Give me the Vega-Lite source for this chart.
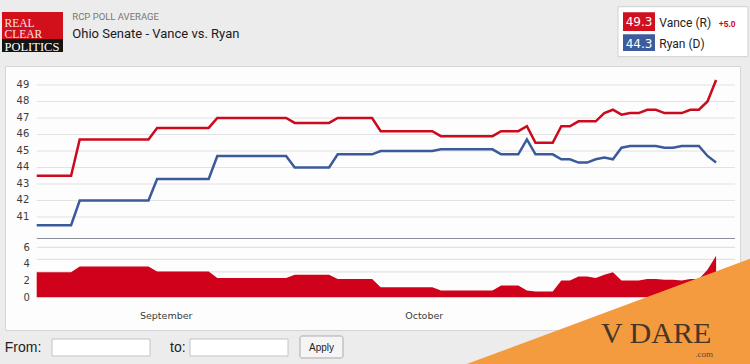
{
  "$schema": "https://vega.github.io/schema/vega-lite/v6.json",
  "width": 735,
  "height": 264,
  "autosize": {"type": "none"},
  "padding": {"left": 5, "top": 66, "right": 10, "bottom": 34},
  "background": "#ececec",
  "config": {
    "view": {"fill": "#fdfdfd", "stroke": "#d6d6d6"},
    "axis": {"grid": false, "domain": false, "ticks": false, "labelFont": "DejaVu Sans", "labelColor": "#3c3c3c", "labelOverlap": false}
  },
  "datasets": {
    "rcp": [
      {"date": "2022-08-17T00:00", "vance": 43.5, "ryan": 40.5, "spread": 3.0},
      {"date": "2022-08-18T00:00", "vance": 43.5, "ryan": 40.5, "spread": 3.0},
      {"date": "2022-08-19T00:00", "vance": 43.5, "ryan": 40.5, "spread": 3.0},
      {"date": "2022-08-20T00:00", "vance": 43.5, "ryan": 40.5, "spread": 3.0},
      {"date": "2022-08-21T00:00", "vance": 43.5, "ryan": 40.5, "spread": 3.0},
      {"date": "2022-08-22T00:00", "vance": 45.7, "ryan": 42.0, "spread": 3.7},
      {"date": "2022-08-23T00:00", "vance": 45.7, "ryan": 42.0, "spread": 3.7},
      {"date": "2022-08-24T00:00", "vance": 45.7, "ryan": 42.0, "spread": 3.7},
      {"date": "2022-08-25T00:00", "vance": 45.7, "ryan": 42.0, "spread": 3.7},
      {"date": "2022-08-26T00:00", "vance": 45.7, "ryan": 42.0, "spread": 3.7},
      {"date": "2022-08-27T00:00", "vance": 45.7, "ryan": 42.0, "spread": 3.7},
      {"date": "2022-08-28T00:00", "vance": 45.7, "ryan": 42.0, "spread": 3.7},
      {"date": "2022-08-29T00:00", "vance": 45.7, "ryan": 42.0, "spread": 3.7},
      {"date": "2022-08-30T00:00", "vance": 45.7, "ryan": 42.0, "spread": 3.7},
      {"date": "2022-08-31T00:00", "vance": 46.4, "ryan": 43.3, "spread": 3.1},
      {"date": "2022-09-01T00:00", "vance": 46.4, "ryan": 43.3, "spread": 3.1},
      {"date": "2022-09-02T00:00", "vance": 46.4, "ryan": 43.3, "spread": 3.1},
      {"date": "2022-09-03T00:00", "vance": 46.4, "ryan": 43.3, "spread": 3.1},
      {"date": "2022-09-04T00:00", "vance": 46.4, "ryan": 43.3, "spread": 3.1},
      {"date": "2022-09-05T00:00", "vance": 46.4, "ryan": 43.3, "spread": 3.1},
      {"date": "2022-09-06T00:00", "vance": 46.4, "ryan": 43.3, "spread": 3.1},
      {"date": "2022-09-07T00:00", "vance": 47.0, "ryan": 44.7, "spread": 2.3},
      {"date": "2022-09-08T00:00", "vance": 47.0, "ryan": 44.7, "spread": 2.3},
      {"date": "2022-09-09T00:00", "vance": 47.0, "ryan": 44.7, "spread": 2.3},
      {"date": "2022-09-10T00:00", "vance": 47.0, "ryan": 44.7, "spread": 2.3},
      {"date": "2022-09-11T00:00", "vance": 47.0, "ryan": 44.7, "spread": 2.3},
      {"date": "2022-09-12T00:00", "vance": 47.0, "ryan": 44.7, "spread": 2.3},
      {"date": "2022-09-13T00:00", "vance": 47.0, "ryan": 44.7, "spread": 2.3},
      {"date": "2022-09-14T00:00", "vance": 47.0, "ryan": 44.7, "spread": 2.3},
      {"date": "2022-09-15T00:00", "vance": 47.0, "ryan": 44.7, "spread": 2.3},
      {"date": "2022-09-16T00:00", "vance": 46.7, "ryan": 44.0, "spread": 2.7},
      {"date": "2022-09-17T00:00", "vance": 46.7, "ryan": 44.0, "spread": 2.7},
      {"date": "2022-09-18T00:00", "vance": 46.7, "ryan": 44.0, "spread": 2.7},
      {"date": "2022-09-19T00:00", "vance": 46.7, "ryan": 44.0, "spread": 2.7},
      {"date": "2022-09-20T00:00", "vance": 46.7, "ryan": 44.0, "spread": 2.7},
      {"date": "2022-09-21T00:00", "vance": 47.0, "ryan": 44.8, "spread": 2.2},
      {"date": "2022-09-22T00:00", "vance": 47.0, "ryan": 44.8, "spread": 2.2},
      {"date": "2022-09-23T00:00", "vance": 47.0, "ryan": 44.8, "spread": 2.2},
      {"date": "2022-09-24T00:00", "vance": 47.0, "ryan": 44.8, "spread": 2.2},
      {"date": "2022-09-25T00:00", "vance": 47.0, "ryan": 44.8, "spread": 2.2},
      {"date": "2022-09-26T00:00", "vance": 46.2, "ryan": 45.0, "spread": 1.2},
      {"date": "2022-09-27T00:00", "vance": 46.2, "ryan": 45.0, "spread": 1.2},
      {"date": "2022-09-28T00:00", "vance": 46.2, "ryan": 45.0, "spread": 1.2},
      {"date": "2022-09-29T00:00", "vance": 46.2, "ryan": 45.0, "spread": 1.2},
      {"date": "2022-09-30T00:00", "vance": 46.2, "ryan": 45.0, "spread": 1.2},
      {"date": "2022-10-01T00:00", "vance": 46.2, "ryan": 45.0, "spread": 1.2},
      {"date": "2022-10-02T00:00", "vance": 46.2, "ryan": 45.0, "spread": 1.2},
      {"date": "2022-10-03T00:00", "vance": 45.9, "ryan": 45.1, "spread": 0.8},
      {"date": "2022-10-04T00:00", "vance": 45.9, "ryan": 45.1, "spread": 0.8},
      {"date": "2022-10-05T00:00", "vance": 45.9, "ryan": 45.1, "spread": 0.8},
      {"date": "2022-10-06T00:00", "vance": 45.9, "ryan": 45.1, "spread": 0.8},
      {"date": "2022-10-07T00:00", "vance": 45.9, "ryan": 45.1, "spread": 0.8},
      {"date": "2022-10-08T00:00", "vance": 45.9, "ryan": 45.1, "spread": 0.8},
      {"date": "2022-10-09T00:00", "vance": 45.9, "ryan": 45.1, "spread": 0.8},
      {"date": "2022-10-10T00:00", "vance": 46.2, "ryan": 44.8, "spread": 1.4},
      {"date": "2022-10-11T00:00", "vance": 46.2, "ryan": 44.8, "spread": 1.4},
      {"date": "2022-10-12T00:00", "vance": 46.2, "ryan": 44.8, "spread": 1.4},
      {"date": "2022-10-13T00:00", "vance": 46.5, "ryan": 45.7, "spread": 0.8},
      {"date": "2022-10-14T00:00", "vance": 45.5, "ryan": 44.8, "spread": 0.7},
      {"date": "2022-10-15T00:00", "vance": 45.5, "ryan": 44.8, "spread": 0.7},
      {"date": "2022-10-16T00:00", "vance": 45.5, "ryan": 44.8, "spread": 0.7},
      {"date": "2022-10-17T00:00", "vance": 46.5, "ryan": 44.5, "spread": 2.0},
      {"date": "2022-10-18T00:00", "vance": 46.5, "ryan": 44.5, "spread": 2.0},
      {"date": "2022-10-19T00:00", "vance": 46.8, "ryan": 44.3, "spread": 2.5},
      {"date": "2022-10-20T00:00", "vance": 46.8, "ryan": 44.3, "spread": 2.5},
      {"date": "2022-10-21T00:00", "vance": 46.8, "ryan": 44.5, "spread": 2.3},
      {"date": "2022-10-22T00:00", "vance": 47.3, "ryan": 44.6, "spread": 2.7},
      {"date": "2022-10-23T00:00", "vance": 47.5, "ryan": 44.5, "spread": 3.0},
      {"date": "2022-10-24T00:00", "vance": 47.2, "ryan": 45.2, "spread": 2.0},
      {"date": "2022-10-25T00:00", "vance": 47.3, "ryan": 45.3, "spread": 2.0},
      {"date": "2022-10-26T00:00", "vance": 47.3, "ryan": 45.3, "spread": 2.0},
      {"date": "2022-10-27T00:00", "vance": 47.5, "ryan": 45.3, "spread": 2.2},
      {"date": "2022-10-28T00:00", "vance": 47.5, "ryan": 45.3, "spread": 2.2},
      {"date": "2022-10-29T00:00", "vance": 47.3, "ryan": 45.2, "spread": 2.1},
      {"date": "2022-10-30T00:00", "vance": 47.3, "ryan": 45.2, "spread": 2.1},
      {"date": "2022-10-31T00:00", "vance": 47.3, "ryan": 45.3, "spread": 2.0},
      {"date": "2022-11-01T00:00", "vance": 47.5, "ryan": 45.3, "spread": 2.2},
      {"date": "2022-11-02T00:00", "vance": 47.5, "ryan": 45.3, "spread": 2.2},
      {"date": "2022-11-03T00:00", "vance": 48.0, "ryan": 44.7, "spread": 3.3},
      {"date": "2022-11-04T00:00", "vance": 49.3, "ryan": 44.3, "spread": 5.0}
    ],
    "latest": [
      {"candidate": "Vance (R)", "avg": 49.3, "lead": "+5.0"},
      {"candidate": "Ryan (D)", "avg": 44.3, "lead": ""}
    ],
    "gridTop": [{"v": 41}, {"v": 42}, {"v": 43}, {"v": 44}, {"v": 45}, {"v": 46}, {"v": 47}, {"v": 48}, {"v": 49}],
    "gridSpread": [{"v": 3.05}, {"v": 4.55}, {"v": 6}]
  },
  "resolve": {"scale": {"y": "independent"}, "axis": {"y": "independent"}},
  "layer": [
    {
      "layer": [
        {
          "data": {"name": "gridSpread"},
          "mark": {"type": "rule", "color": "#e2e2e2", "strokeWidth": 1.2},
          "encoding": {
            "y": {"field": "v", "type": "quantitative"},
            "x": {"datum": {"year": 2022, "month": 8, "date": 17, "minutes": 0}, "type": "temporal"},
            "x2": {"datum": {"year": 2022, "month": 8, "date": 17, "minutes": 116923}}
          }
        },
        {
          "data": {"name": "rcp"},
          "mark": {"type": "area", "color": "#d0021b", "opacity": 1},
          "encoding": {
            "x": {
              "field": "date",
              "type": "temporal",
              "scale": {
                "domain": [
                  {"year": 2022, "month": 8, "date": 17, "minutes": -5308},
                  {"year": 2022, "month": 8, "date": 17, "minutes": 117761}
                ],
                "nice": false
              },
              "axis": {
                "orient": "bottom",
                "values": [
                  {"year": 2022, "month": 9, "date": 1},
                  {"year": 2022, "month": 10, "date": 1}
                ],
                "format": "%B",
                "labelFontSize": 9.5,
                "labelAlign": "center",
                "labelBaseline": "alphabetic",
                "labelFlush": false,
                "offset": -20,
                "labelPadding": 8.6,
                "title": null
              }
            },
            "y": {
              "field": "spread",
              "type": "quantitative",
              "scale": {"domain": [-3.952, 27.855], "nice": false, "zero": false},
              "axis": {"orient": "left", "values": [0, 2, 4, 6], "offset": -26.3, "labelPadding": 2, "labelFontSize": 10, "title": null}
            },
            "y2": {"datum": 0}
          }
        }
      ]
    },
    {
      "layer": [
        {
          "data": {"name": "gridTop"},
          "mark": {"type": "rule", "color": "#e2e2e2", "strokeWidth": 1.2},
          "encoding": {
            "y": {"field": "v", "type": "quantitative"},
            "x": {"datum": {"year": 2022, "month": 8, "date": 17, "minutes": 0}, "type": "temporal"},
            "x2": {"datum": {"year": 2022, "month": 8, "date": 17, "minutes": 116923}}
          }
        },
        {
          "data": {"name": "gridTop"},
          "mark": {"type": "text", "font": "DejaVu Sans", "fontSize": 10, "color": "#3c3c3c", "align": "right", "baseline": "middle"},
          "encoding": {
            "text": {"field": "v", "type": "quantitative"},
            "y": {"field": "v", "type": "quantitative"},
            "x": {"datum": {"year": 2022, "month": 8, "date": 17, "minutes": -1239}, "type": "temporal"}
          }
        },
        {
          "data": {"values": [{}]},
          "mark": {"type": "rule", "color": "#8a8f99", "strokeWidth": 1},
          "encoding": {
            "y": {"datum": 39.697, "type": "quantitative"},
            "x": {"datum": {"year": 2022, "month": 8, "date": 17, "minutes": 0}, "type": "temporal"},
            "x2": {"datum": {"year": 2022, "month": 8, "date": 17, "minutes": 116923}}
          }
        },
        {
          "data": {"name": "rcp"},
          "mark": {"type": "line", "color": "#cc0a1e", "strokeWidth": 2.5},
          "encoding": {
            "x": {"field": "date", "type": "temporal"},
            "y": {
              "field": "vance",
              "type": "quantitative",
              "scale": {"domain": [34.1515, 50.1515], "nice": false, "zero": false},
              "axis": {"orient": "left", "labels": false, "title": null}
            }
          }
        },
        {
          "data": {"name": "rcp"},
          "mark": {"type": "line", "color": "#3b5a9a", "strokeWidth": 2.5},
          "encoding": {
            "x": {"field": "date", "type": "temporal"},
            "y": {"field": "ryan", "type": "quantitative"}
          }
        },
        {
          "data": {"values": [{}]},
          "mark": {"type": "text", "text": "RCP POLL AVERAGE", "font": "Roboto", "fontSize": 9.5, "color": "#777777", "align": "left", "baseline": "alphabetic"},
          "encoding": {
            "x": {"datum": {"year": 2022, "month": 8, "date": 17, "minutes": 5961}, "type": "temporal"},
            "y": {"datum": 52.939, "type": "quantitative"}
          }
        },
        {
          "data": {"values": [{}]},
          "mark": {"type": "text", "text": "Ohio Senate - Vance vs. Ryan", "font": "Roboto", "fontSize": 13, "color": "#1a1a1a", "align": "left", "baseline": "alphabetic"},
          "encoding": {
            "x": {"datum": {"year": 2022, "month": 8, "date": 17, "minutes": 5961}, "type": "temporal"},
            "y": {"datum": 51.867, "type": "quantitative"}
          }
        },
        {
          "data": {"values": [{}]},
          "mark": {"type": "rect", "color": "#141414"},
          "encoding": {
            "x": {"datum": {"year": 2022, "month": 8, "date": 17, "minutes": -5810}, "type": "temporal"},
            "x2": {"datum": {"year": 2022, "month": 8, "date": 17, "minutes": 4404}},
            "y": {"datum": 53.424, "type": "quantitative"},
            "y2": {"datum": 51.0}
          }
        },
        {
          "data": {"values": [{}]},
          "mark": {"type": "rect", "color": "#d2101c"},
          "encoding": {
            "x": {"datum": {"year": 2022, "month": 8, "date": 17, "minutes": -5810}, "type": "temporal"},
            "x2": {"datum": {"year": 2022, "month": 8, "date": 17, "minutes": 4404}},
            "y": {"datum": 53.424, "type": "quantitative"},
            "y2": {"datum": 51.788}
          }
        },
        {
          "data": {"values": [{}]},
          "mark": {"type": "text", "text": "REAL", "font": "Liberation Serif", "fontSize": 11.5, "color": "#fbe4e4", "align": "left", "baseline": "alphabetic"},
          "encoding": {
            "x": {"datum": {"year": 2022, "month": 8, "date": 17, "minutes": -5392}, "type": "temporal"},
            "y": {"datum": 52.527, "type": "quantitative"}
          }
        },
        {
          "data": {"values": [{}]},
          "mark": {"type": "text", "text": "CLEAR", "font": "Liberation Serif", "fontSize": 11.5, "color": "#fbe4e4", "align": "left", "baseline": "alphabetic"},
          "encoding": {
            "x": {"datum": {"year": 2022, "month": 8, "date": 17, "minutes": -5392}, "type": "temporal"},
            "y": {"datum": 51.861, "type": "quantitative"}
          }
        },
        {
          "data": {"values": [{}]},
          "mark": {"type": "text", "text": "POLITICS", "font": "Liberation Serif", "fontSize": 12.5, "color": "#ffffff", "align": "left", "baseline": "alphabetic"},
          "encoding": {
            "x": {"datum": {"year": 2022, "month": 8, "date": 17, "minutes": -5392}, "type": "temporal"},
            "y": {"datum": 51.079, "type": "quantitative"}
          }
        },
        {
          "data": {"values": [{}]},
          "mark": {"type": "rect", "fill": "#ffffff", "stroke": "#d0d0d0", "strokeWidth": 1},
          "encoding": {
            "x": {"datum": {"year": 2022, "month": 8, "date": 17, "minutes": 97333}, "type": "temporal"},
            "x2": {"datum": {"year": 2022, "month": 8, "date": 17, "minutes": 119100}},
            "y": {"datum": 53.745, "type": "quantitative"},
            "y2": {"datum": 50.715}
          }
        },
        {
          "data": {"values": [{}]},
          "mark": {"type": "rect", "color": "#d0101e"},
          "encoding": {
            "x": {"datum": {"year": 2022, "month": 8, "date": 17, "minutes": 98170}, "type": "temporal"},
            "x2": {"datum": {"year": 2022, "month": 8, "date": 17, "minutes": 103528}},
            "y": {"datum": 53.406, "type": "quantitative"},
            "y2": {"datum": 52.273}
          }
        },
        {
          "data": {"values": [{}]},
          "mark": {"type": "rect", "color": "#3d5c9c"},
          "encoding": {
            "x": {"datum": {"year": 2022, "month": 8, "date": 17, "minutes": 98170}, "type": "temporal"},
            "x2": {"datum": {"year": 2022, "month": 8, "date": 17, "minutes": 103528}},
            "y": {"datum": 52.073, "type": "quantitative"},
            "y2": {"datum": 51.061}
          }
        },
        {
          "data": {"name": "latest"},
          "transform": [{"filter": "datum.candidate === 'Vance (R)'"}],
          "mark": {"type": "text", "font": "DejaVu Sans", "fontSize": 12, "color": "#ffffff", "align": "center", "baseline": "alphabetic"},
          "encoding": {
            "text": {"field": "avg", "type": "quantitative", "format": ".1f"},
            "x": {"datum": {"year": 2022, "month": 8, "date": 17, "minutes": 100849}, "type": "temporal"},
            "y": {"datum": 52.606, "type": "quantitative"}
          }
        },
        {
          "data": {"name": "latest"},
          "transform": [{"filter": "datum.candidate === 'Ryan (D)'"}],
          "mark": {"type": "text", "font": "DejaVu Sans", "fontSize": 12, "color": "#ffffff", "align": "center", "baseline": "alphabetic"},
          "encoding": {
            "text": {"field": "avg", "type": "quantitative", "format": ".1f"},
            "x": {"datum": {"year": 2022, "month": 8, "date": 17, "minutes": 100849}, "type": "temporal"},
            "y": {"datum": 51.261, "type": "quantitative"}
          }
        },
        {
          "data": {"name": "latest"},
          "transform": [{"filter": "datum.candidate === 'Vance (R)'"}],
          "mark": {"type": "text", "font": "Roboto", "fontSize": 12, "color": "#222222", "align": "left", "baseline": "alphabetic"},
          "encoding": {
            "text": {"field": "candidate", "type": "nominal"},
            "x": {"datum": {"year": 2022, "month": 8, "date": 17, "minutes": 104248}, "type": "temporal"},
            "y": {"datum": 52.533, "type": "quantitative"}
          }
        },
        {
          "data": {"name": "latest"},
          "transform": [{"filter": "datum.candidate === 'Ryan (D)'"}],
          "mark": {"type": "text", "font": "Roboto", "fontSize": 12, "color": "#222222", "align": "left", "baseline": "alphabetic"},
          "encoding": {
            "text": {"field": "candidate", "type": "nominal"},
            "x": {"datum": {"year": 2022, "month": 8, "date": 17, "minutes": 104248}, "type": "temporal"},
            "y": {"datum": 51.224, "type": "quantitative"}
          }
        },
        {
          "data": {"name": "latest"},
          "transform": [{"filter": "datum.candidate === 'Vance (R)'"}],
          "mark": {"type": "text", "font": "Liberation Sans", "fontSize": 8.5, "fontWeight": "bold", "color": "#d0021b", "align": "left", "baseline": "alphabetic"},
          "encoding": {
            "text": {"field": "lead", "type": "nominal"},
            "x": {"datum": {"year": 2022, "month": 8, "date": 17, "minutes": 114200}, "type": "temporal"},
            "y": {"datum": 52.533, "type": "quantitative"}
          }
        },
        {
          "data": {"values": [{}]},
          "mark": {"type": "text", "text": "From:", "font": "Liberation Sans", "fontSize": 14, "color": "#222222", "align": "left", "baseline": "alphabetic"},
          "encoding": {
            "x": {"datum": {"year": 2022, "month": 8, "date": 17, "minutes": -5341}, "type": "temporal"},
            "y": {"datum": 32.788, "type": "quantitative"}
          }
        },
        {
          "data": {"values": [{}]},
          "mark": {"type": "rect", "fill": "#ffffff", "stroke": "#c4c4c4", "strokeWidth": 1},
          "encoding": {
            "x": {"datum": {"year": 2022, "month": 8, "date": 17, "minutes": 2562}, "type": "temporal"},
            "x2": {"datum": {"year": 2022, "month": 8, "date": 17, "minutes": 18971}},
            "y": {"datum": 33.606, "type": "quantitative"},
            "y2": {"datum": 32.576}
          }
        },
        {
          "data": {"values": [{}]},
          "mark": {"type": "text", "text": "to:", "font": "Liberation Sans", "fontSize": 14, "color": "#222222", "align": "left", "baseline": "alphabetic"},
          "encoding": {
            "x": {"datum": {"year": 2022, "month": 8, "date": 17, "minutes": 22320}, "type": "temporal"},
            "y": {"datum": 32.788, "type": "quantitative"}
          }
        },
        {
          "data": {"values": [{}]},
          "mark": {"type": "rect", "fill": "#ffffff", "stroke": "#c4c4c4", "strokeWidth": 1},
          "encoding": {
            "x": {"datum": {"year": 2022, "month": 8, "date": 17, "minutes": 25669}, "type": "temporal"},
            "x2": {"datum": {"year": 2022, "month": 8, "date": 17, "minutes": 42078}},
            "y": {"datum": 33.606, "type": "quantitative"},
            "y2": {"datum": 32.576}
          }
        },
        {
          "data": {"values": [{}]},
          "mark": {"type": "rect", "fill": "#f5f5f5", "stroke": "#aaaaaa", "strokeWidth": 1, "cornerRadius": 2},
          "encoding": {
            "x": {"datum": {"year": 2022, "month": 8, "date": 17, "minutes": 44087}, "type": "temporal"},
            "x2": {"datum": {"year": 2022, "month": 8, "date": 17, "minutes": 51287}},
            "y": {"datum": 33.788, "type": "quantitative"},
            "y2": {"datum": 32.455}
          }
        },
        {
          "data": {"values": [{}]},
          "mark": {"type": "text", "text": "Apply", "font": "Liberation Sans", "fontSize": 10, "color": "#222222", "align": "center", "baseline": "alphabetic"},
          "encoding": {
            "x": {"datum": {"year": 2022, "month": 8, "date": 17, "minutes": 47687}, "type": "temporal"},
            "y": {"datum": 32.879, "type": "quantitative"}
          }
        },
        {
          "data": {"values": [{}]},
          "mark": {"type": "point", "shape": "M-1,1L1,0.2575L1,1Z", "size": 89401, "filled": true, "color": "#f49b3f", "opacity": 1, "strokeWidth": 0},
          "encoding": {
            "x": {"datum": {"year": 2022, "month": 8, "date": 17, "minutes": 95240}, "type": "temporal"},
            "y": {"datum": 40.909, "type": "quantitative"}
          }
        },
        {
          "data": {"values": [{}]},
          "mark": {"type": "text", "text": "V DARE", "font": "Liberation Serif", "fontSize": 30, "color": "#463626", "align": "left", "baseline": "alphabetic"},
          "encoding": {
            "x": {"datum": {"year": 2022, "month": 8, "date": 17, "minutes": 94486}, "type": "temporal"},
            "y": {"datum": 33.364, "type": "quantitative"}
          }
        },
        {
          "data": {"values": [{}]},
          "mark": {"type": "text", "text": ".com", "font": "Liberation Serif", "fontSize": 9, "color": "#5a4a3c", "align": "right", "baseline": "alphabetic"},
          "encoding": {
            "x": {"datum": {"year": 2022, "month": 8, "date": 17, "minutes": 113240}, "type": "temporal"},
            "y": {"datum": 32.545, "type": "quantitative"}
          }
        }
      ]
    }
  ]
}
